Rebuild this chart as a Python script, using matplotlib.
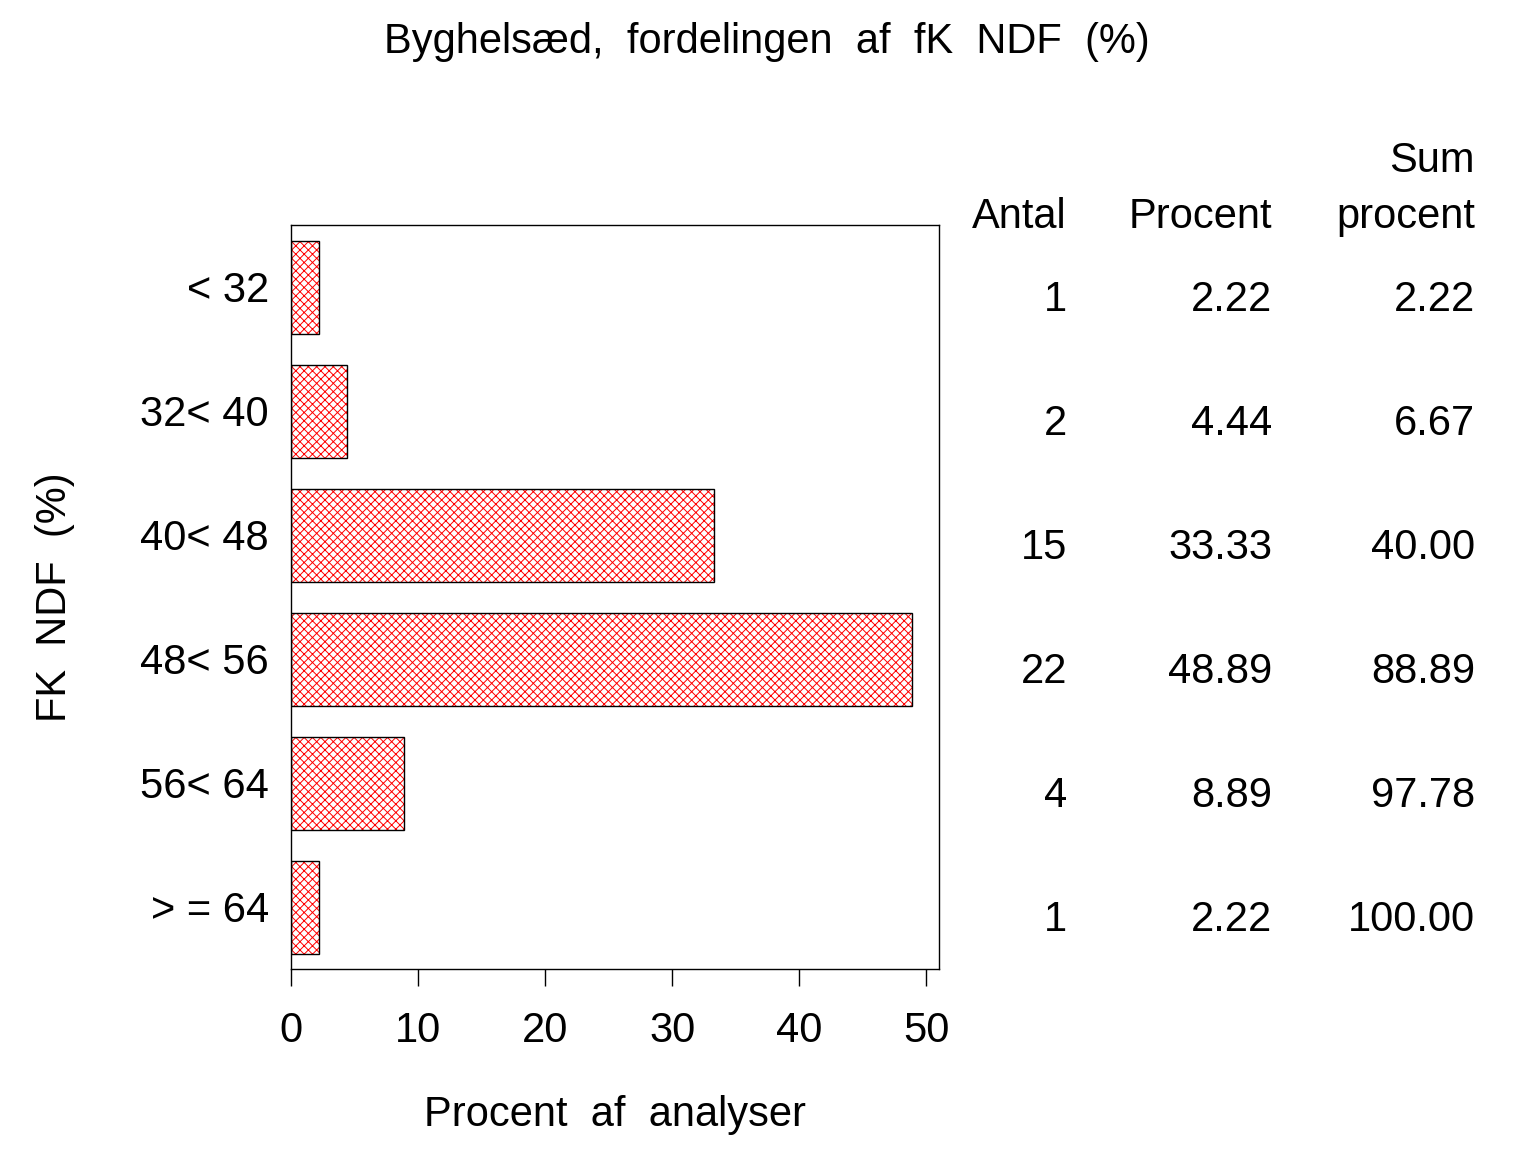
import matplotlib
matplotlib.use("Agg")
import matplotlib.pyplot as plt
import matplotlib.transforms as mtransforms

categories = ["< 32", "32< 40", "40< 48", "48< 56", "56< 64", "> = 64"]
antal = [1, 2, 15, 22, 4, 1]
procent = [2.22, 4.44, 33.33, 48.89, 8.89, 2.22]
sum_procent = [2.22, 6.67, 40.00, 88.89, 97.78, 100.00]
xticks = [0, 10, 20, 30, 40, 50]

plt.rcParams['font.family'] = ['Liberation Sans', 'DejaVu Sans']
plt.rcParams['hatch.linewidth'] = 0.7
FS = 30

fig = plt.figure(figsize=(15.36, 11.52), dpi=100)
ax = fig.add_axes([291/1536, 1-969/1152, (939-291)/1536, (969-225)/1152])

ypos = list(range(len(categories)))
ax.barh(ypos, procent, height=0.75, color='white', edgecolor='red', hatch='xxxx', linewidth=0)
ax.barh(ypos, procent, height=0.75, color='none', edgecolor='black', linewidth=1.0)

ax.set_xlim(0, 51.0)
ax.set_ylim(len(categories) - 0.5, -0.5)
ax.set_yticks(ypos)
ax.set_yticklabels(categories, fontsize=FS)
ax.set_xticks(xticks)
ax.set_xticklabels([str(t) for t in xticks], fontsize=FS)
ax.tick_params(axis='y', length=0, pad=16)
ax.tick_params(axis='x', length=12, width=1.0, pad=18, direction='out')
for s in ax.spines.values():
    s.set_linewidth(1.0)

ax.set_xlabel("Procent  af  analyser", fontsize=FS, labelpad=32)
fig.text(55/1536, 0.5 - ((225+969)/2 - 576)/1152, "FK  NDF  (%)", rotation=90,
         fontsize=FS, ha='center', va='center')
fig.text(767/1536, 1-42/1152, "Byghelsæd,  fordelingen  af  fK  NDF  (%)",
         fontsize=FS, ha='center', va='center')

# table
trans = mtransforms.blended_transform_factory(fig.transFigure, ax.transData)
trans = mtransforms.offset_copy(trans, fig=fig, x=0, y=-13, units='dots')
col_x = [1067/1536, 1272/1536, 1475/1536]
for i in range(len(categories)):
    ax.text(col_x[0], ypos[i], f"{antal[i]}", transform=trans, ha='right', va='center', fontsize=FS)
    ax.text(col_x[1], ypos[i], f"{procent[i]:.2f}", transform=trans, ha='right', va='center', fontsize=FS)
    ax.text(col_x[2], ypos[i], f"{sum_procent[i]:.2f}", transform=trans, ha='right', va='center', fontsize=FS)

hy = 1 - 228/1152
fig.text(col_x[0], hy, "Antal", ha='right', va='baseline', fontsize=FS)
fig.text(col_x[1], hy, "Procent", ha='right', va='baseline', fontsize=FS)
fig.text(col_x[2], hy, "procent", ha='right', va='baseline', fontsize=FS)
fig.text(col_x[2], 1 - 172/1152, "Sum", ha='right', va='baseline', fontsize=FS)

fig.savefig("out.png", dpi=100, facecolor='white')
